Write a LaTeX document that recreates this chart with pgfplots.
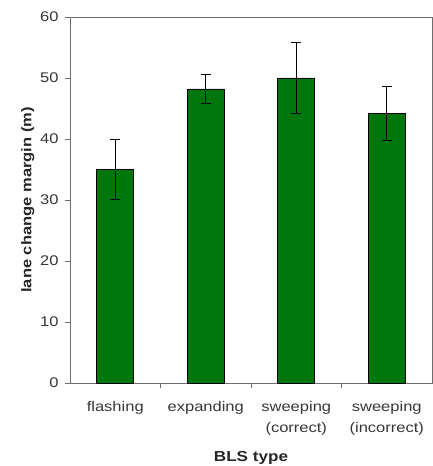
\documentclass[border=0pt]{standalone}
\usepackage{pgfplots}
\pgfplotsset{compat=1.18}
\usepackage{fontspec}
\setmainfont{Liberation Sans}[FakeStretch=1.18]
\definecolor{barg}{RGB}{0,118,12}
\definecolor{axg}{RGB}{110,110,110}
\definecolor{txtg}{RGB}{55,55,55}
\begin{document}
\begin{tikzpicture}
\begin{axis}[
  scale only axis,
  width=362pt, height=366pt,
  xmin=-0.5, xmax=3.5,
  ymin=0, ymax=60,
  ytick={0,10,20,30,40,50,60},
  xtick={0,1,2,3},
  xticklabels={flashing, expanding, {sweeping\\(correct)}, {sweeping\\(incorrect)}},
  minor xtick={0.5,1.5,2.5},
  major x tick style={draw=none},
  xtick pos=bottom, ytick pos=left,
  tick align=outside,
  major tick length=5pt,
  minor tick length=5pt,
  tick style={axg, line width=0.8pt},
  axis line style={axg, line width=0.8pt},
  /pgf/number format/assume math mode=true,
  ticklabel style={font=\fontsize{14}{21}\selectfont, text=txtg},
  x tick label style={align=center, anchor=north, yshift=-10pt},
  y tick label style={xshift=-3pt},
  xlabel={BLS type},
  ylabel={lane change margin (m)},
  xlabel style={font=\fontsize{14.5}{16}\selectfont\bfseries, text=black!85, yshift=-9pt},
  ylabel style={font=\fontsize{14}{15}\selectfont\bfseries, text=black!85, yshift=-1pt},
  ybar, bar width=37pt,
  clip=false,
]
\addplot[fill=barg, draw=black, line width=0.8pt,
  error bars/.cd, y dir=both, y explicit,
  error bar style={black, line width=1.1pt},
  error mark options={rotate=90, mark size=5pt, line width=1.1pt}]
coordinates {
  (0,35.0) +- (0,4.9)
  (1,48.2) +- (0,2.4)
  (2,50.0) +- (0,5.8)
  (3,44.2) +- (0,4.4)
};
\end{axis}
\pgfresetboundingbox
\useasboundingbox ([shift={(-70pt,-83pt)}]current axis.south west) rectangle ([shift={(0.5pt,17pt)}]current axis.north east);
\end{tikzpicture}
\end{document}
